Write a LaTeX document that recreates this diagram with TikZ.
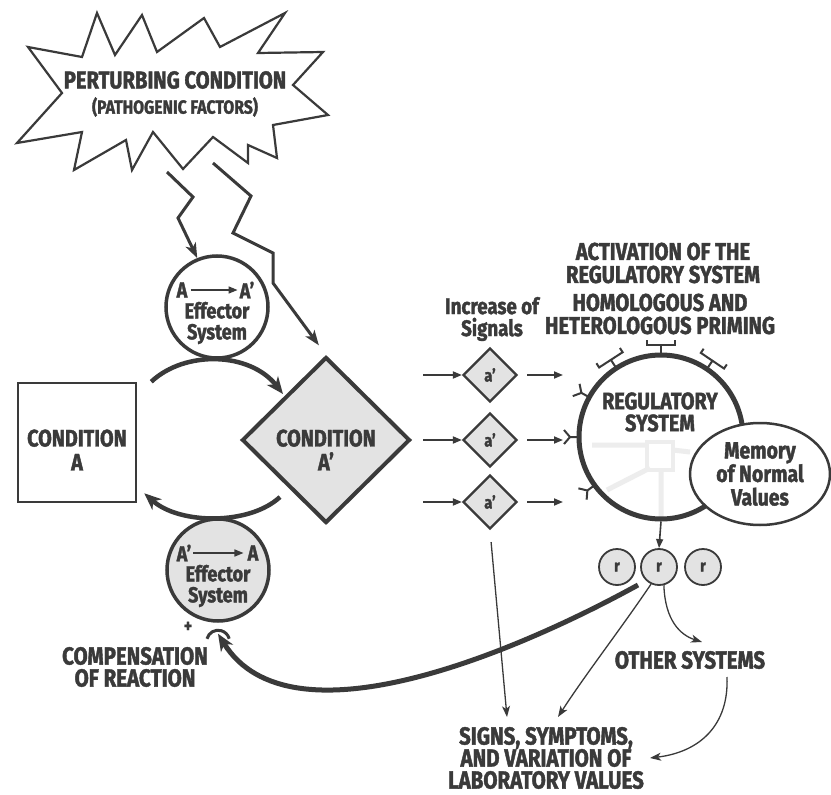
\documentclass[tikz,border=0pt]{standalone}
\usepackage{fontspec}
\setmainfont{Fira Sans}[FakeStretch=0.83, BoldFeatures={FakeBold=1.6}]
\usetikzlibrary{arrows.meta,shapes.geometric,calc}
\definecolor{ink}{HTML}{3A3A3A}
\definecolor{fillg}{HTML}{E3E3E3}
\definecolor{faintg}{HTML}{EDEDED}
\tikzset{
  lbl/.style={text=ink, align=center, inner sep=0pt},
  fP/.style={font=\bfseries\fontsize{24.3}{24}\selectfont},
  fQ/.style={font=\bfseries\fontsize{19}{20}\selectfont},
  fE/.style={font=\bfseries\fontsize{21.7}{21}\selectfont},
  fC/.style={font=\bfseries\fontsize{23.8}{24}\selectfont},
  fH/.style={font=\bfseries\fontsize{24.3}{23}\selectfont},
  fS/.style={font=\bfseries\fontsize{22.5}{22}\selectfont},
  fR/.style={font=\bfseries\fontsize{23.8}{22}\selectfont},
  fM/.style={font=\bfseries\fontsize{23.4}{23.5}\selectfont},
  fL/.style={font=\bfseries\fontsize{24.7}{22}\selectfont},
  bigarr/.style={draw=ink, line width=4.5pt, -{Stealth[length=17pt,width=14pt,inset=5pt]}},
  zig/.style={draw=ink, line width=3pt, line join=miter, -{Stealth[length=15pt,width=11pt,inset=4pt]}},
  sig/.style={draw=ink, line width=1.8pt, -{Triangle[length=9pt,width=7pt]}},
  thinarr/.style={draw=ink, line width=1.3pt, -{Stealth[length=11pt,width=8pt,inset=3pt]}},
  rec/.style={draw=ink, line width=2pt},
  effc/.style={circle, draw=ink, line width=3.5pt, minimum size=102pt, inner sep=0pt},
  smalldia/.style={diamond, draw=ink, fill=fillg, line width=2.2pt, minimum width=54pt, minimum height=54pt, inner sep=0pt, text=ink, font=\bfseries\fontsize{17.5}{18}\selectfont},
  rcirc/.style={circle, draw=ink, fill=fillg, line width=1.8pt, minimum size=36pt, inner sep=0pt, text=ink, font=\bfseries\fontsize{16.5}{17}\selectfont},
}
\begin{document}
\begin{tikzpicture}[x=1pt,y=1pt]
\useasboundingbox (0,0) rectangle (831,-795);
\fill[white] (0,0) rectangle (831,-795);

% starburst
\draw[ink, line width=2.2pt, fill=white, line join=miter]
 (28,-47) -- (82,-57) -- (97,-13) -- (115,-55) -- (142,-15) -- (157,-52) -- (204,-18)
 -- (220,-47) -- (285,-13) -- (258,-53) -- (323,-52) -- (293,-85) -- (328,-115)
 -- (273,-125) -- (277,-158) -- (248,-145) -- (248,-163) -- (213,-137) -- (183,-169)
 -- (153,-132) -- (132,-170) -- (126,-140) -- (74,-170) -- (82,-132) -- (17,-143)
 -- (62,-93) -- cycle;
\node[lbl,fP] (pert) at (175,-80) {PERTURBING CONDITION};
\node[lbl,fQ] (patho) at (175,-107) {(PATHOGENIC FACTORS)};

% effector circles
\node[effc] (eff1) at (217,-307) {};
\node[effc, fill=fillg] (eff2) at (218,-570) {};
\node[lbl,fE] (a1) at (182,-290) {A};
\node[lbl,fE] (a1p) at (247,-290) {A'};
\draw[sig, line width=1.5pt, shorten <=3pt, shorten >=2pt] (a1) -- (a1p);
\node[lbl,fE] (eff1t) at (217,-323) {Effector\\System};
\node[lbl,fE] (a2p) at (184,-553) {A'};
\node[lbl,fE] (a2) at (253,-553) {A};
\draw[sig, line width=1.5pt, shorten <=2pt, shorten >=4pt] (a2p) -- (a2);
\node[lbl,fE] (eff2t) at (218,-586) {Effector\\System};

% conditions
\node[draw=ink, line width=2.5pt, minimum width=118pt, minimum height=119pt] (condA) at (77,-442.5) {};
\node[lbl,fC] (condAt) at (77,-450) {CONDITION\\A};
\node[diamond, draw=ink, fill=fillg, line width=4pt, minimum width=168pt, minimum height=166pt] (condAp) at (326,-440) {};
\node[lbl,fC] (condApt) at (326,-450) {CONDITION\\A'};

% lightning arrows
\coordinate (l1) at (167,-172);
\coordinate (l2) at (213,-163);
\draw[zig] (l1) -- (193,-197) -- (178,-218) -- (eff1.112);
\draw[zig, shorten >=12pt] (l2) -- (251,-196) -- (233,-233) -- (273,-253) -- (273,-283) -- (condAp.north);

% cycle arcs
\coordinate (c1) at ($(condA.north east)+(14,0)$);
\coordinate (c2) at (283,-394);
\coordinate (c3) at (280,-497);
\coordinate (c4) at ($(condA.south east)+(7,10)$);
\draw[bigarr] (c1) .. controls (185,-350) and (250,-352) .. (c2);
\draw[bigarr] (c3) .. controls (250,-525) and (180,-525) .. (c4);

% regulatory system
\draw[faintg, line width=5pt] (592,-445) -- (647,-445) (650,-468) -- (607,-490) (661,-470) -- (661,-517) (673,-450) -- (690,-452);
\draw[faintg, line width=4pt] (647,-442) rectangle (673,-470);
\node[circle, draw=ink, line width=5pt, minimum size=164pt, inner sep=0pt] (reg) at (661,-437) {};
\foreach \a in {151,180,216}{
  \begin{scope}[shift={(reg.center)}, rotate=\a]
    \draw[rec] (84,0) -- (91,0) (97,7) -- (91,0) -- (97,-7);
  \end{scope}}
\foreach \a in {56,90,123}{
  \begin{scope}[shift={(reg.center)}, rotate=\a]
    \draw[rec] (84,0) -- (92,0) (97,-14) -- (92,-14) -- (92,14) -- (97,14);
  \end{scope}}
\node[lbl,fR] (regt) at (660,-412) {REGULATORY\\SYSTEM};
\node[ellipse, draw=ink, fill=white, line width=2.5pt, minimum width=140pt, minimum height=102pt, lbl, fM] (mem) at (760,-474) {Memory\\of Normal\\Values};

% headers
\node[lbl,fH] (act) at (663,-263) {ACTIVATION OF THE\\REGULATORY SYSTEM};
\node[lbl,fH] (prim) at (660,-314) {HOMOLOGOUS AND\\HETEROLOGOUS PRIMING};
\node[lbl,fS] (incr) at (492,-319) {Increase of\\Signals};

% signals
\node[smalldia] (s1) at (490,-375) {a'};
\node[smalldia] (s2) at (490,-440) {a'};
\node[smalldia] (s3) at (490,-502) {a'};
\foreach \i/\y in {1/-375,2/-440,3/-502}{
  \coordinate (in\i) at (423,\y);
  \coordinate (out\i) at (563,\y);
  \draw[sig] (in\i) -- (s\i);
  \draw[sig, shorten <=9pt] (s\i) -- (out\i);
}

% r circles
\node[rcirc] (r1) at (617,-567) {r};
\node[rcirc] (r2) at (659,-567) {r};
\node[rcirc] (r3) at (703,-567) {r};
\draw[sig, line width=1.6pt] (reg.south) -- (r2.north);

% outputs
\node[lbl,fL] (other) at (690,-660) {OTHER SYSTEMS};
\node[lbl,fL] (signs) at (546,-758) {SIGNS, SYMPTOMS,\\AND VARIATION OF\\LABORATORY VALUES};
\coordinate (sg1) at (507,-717);
\coordinate (sg2) at (558,-717);
\coordinate (sg3) at (650,-758);
\coordinate (ot1) at (702,-642);
\coordinate (ot2) at (727,-677);
\draw[thinarr, shorten <=12pt] (s3.south) -- (sg1);
\draw[thinarr] (r2.245) .. controls (620,-630) and (585,-675) .. (sg2);
\draw[thinarr] (r2.285) .. controls (665,-620) and (680,-635) .. (ot1);
\draw[thinarr] (ot2) .. controls (729,-725) and (700,-752) .. (sg3);

% compensation
\coordinate (cs) at (638,-585);
\coordinate (ce) at ($(eff2.south)+(0,-11)$);
\draw[bigarr, line width=5pt] (cs) .. controls (520,-650) and (290,-750) .. (ce);
\draw[ink, line width=3pt] ($(eff2.south)+(-11,-16)$) arc[start angle=165, end angle=15, radius=11.5];
\node[lbl, font=\bfseries\fontsize{19}{19}\selectfont] (plus) at (188,-627) {+};
\node[lbl,fL] (comp) at (135,-667) {COMPENSATION\\OF REACTION};
\end{tikzpicture}
\end{document}
